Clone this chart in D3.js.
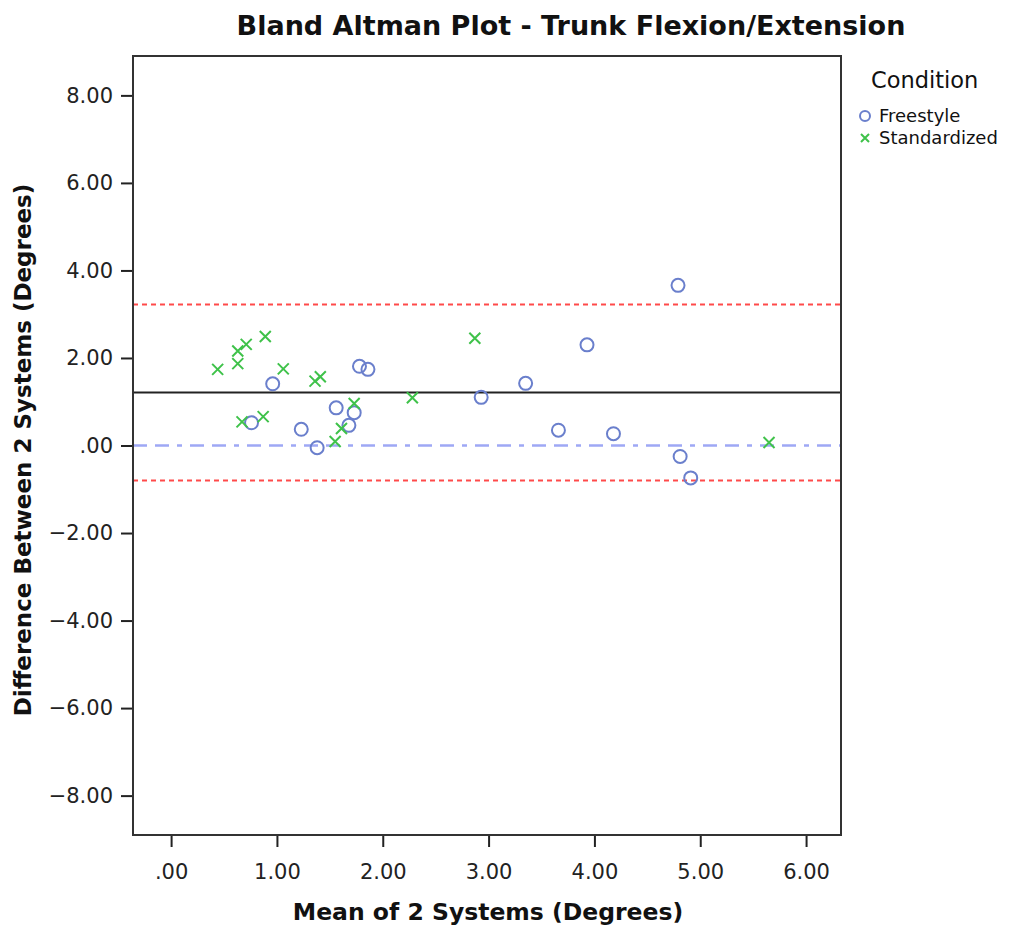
<!DOCTYPE html>
<html lang="en">
<head>
<meta charset="UTF-8">
<title>Bland Altman Plot</title>
<script src="https://cdnjs.cloudflare.com/ajax/libs/d3/7.8.5/d3.min.js"></script>
<style>
    body { margin: 0; background: #fff; }
    text { font-family: "DejaVu Sans", sans-serif; fill: #111; }
</style>
</head>
<body>
<svg id="chart"></svg>
<script>
// freestyle points: [mean, difference]
const freestyle = [
    [0.76, 0.52], [0.96, 1.41], [1.23, 0.37], [1.38, -0.05], [1.56, 0.86],
    [1.68, 0.46], [1.73, 0.75], [1.78, 1.81], [1.86, 1.74], [2.93, 1.10],
    [3.35, 1.42], [3.66, 0.35], [3.93, 2.30], [4.18, 0.27], [4.79, 3.66],
    [4.81, -0.25], [4.91, -0.74]
];
// standardized points
const standardized = [
    [0.44, 1.74], [0.63, 2.16], [0.63, 1.87], [0.71, 2.31], [0.89, 2.49],
    [1.06, 1.75], [1.36, 1.47], [1.41, 1.57], [0.67, 0.54], [0.87, 0.66],
    [1.73, 0.96], [1.61, 0.39], [1.55, 0.09], [2.28, 1.09], [2.87, 2.45],
    [5.65, 0.07]
];
const meanDiff = 1.21;
const upperLoA = 3.22;
const lowerLoA = -0.80;
const zeroLine = 0;

const xTicks = [0, 1, 2, 3, 4, 5, 6];
const yTicks = [-8, -6, -4, -2, 0, 2, 4, 6, 8];
const legendItems = ["Freestyle", "Standardized"];

const W = 1009, H = 926;
const frame = {left: 133, right: 841, top: 56, bottom: 835};

const svg = d3.select("#chart").attr("width", W).attr("height", H);

const x = d3.scaleLinear().domain([-0.36, 6.33]).range([frame.left, frame.right]);
const y = d3.scaleLinear().domain([-8.9, 8.9]).range([frame.bottom, frame.top]);

const fmt = v => v === 0 ? ".00" : d3.format(".2f")(v).replace("-", "\u2212");

// title
svg.append("text")
    .attr("x", 571).attr("y", 35)
    .attr("text-anchor", "middle")
    .style("font-size", "27px").style("font-weight", "bold")
    .text("Bland Altman Plot - Trunk Flexion/Extension");

// axes
const xAxis = d3.axisBottom(x).tickValues(xTicks).tickSize(12).tickSizeOuter(0).tickFormat(fmt);
const gx = svg.append("g").attr("transform", `translate(0,${frame.bottom})`).call(xAxis);
gx.select(".domain").remove();
gx.selectAll(".tick line").attr("stroke", "#222").attr("stroke-width", 2);
gx.selectAll(".tick text").attr("dy", "1.4em").style("font-size", "21px").style("fill", "#222");

const yAxis = d3.axisLeft(y).tickValues(yTicks).tickSize(12).tickSizeOuter(0).tickFormat(fmt);
const gy = svg.append("g").attr("transform", `translate(${frame.left},0)`).call(yAxis);
gy.select(".domain").remove();
gy.selectAll(".tick line").attr("stroke", "#222").attr("stroke-width", 2);
gy.selectAll(".tick text").attr("x", -20).style("font-size", "21px").style("fill", "#222");

// reference lines
const refLine = (v, color, dash, width) => svg.append("line")
    .attr("x1", frame.left).attr("x2", frame.right)
    .attr("y1", y(v)).attr("y2", y(v))
    .attr("stroke", color).attr("stroke-width", width)
    .attr("stroke-dasharray", dash);

refLine(upperLoA, "#ff4a4a", "5,4", 2);
refLine(lowerLoA, "#ff4a4a", "5,4", 2);
refLine(zeroLine, "#9ea8f5", "14,8,14,8,5,8", 2.5);
refLine(meanDiff, "#222", null, 2);

// frame
svg.append("rect")
    .attr("x", frame.left).attr("y", frame.top)
    .attr("width", frame.right - frame.left).attr("height", frame.bottom - frame.top)
    .attr("fill", "none").attr("stroke", "#333").attr("stroke-width", 2);

// points
svg.append("g").selectAll("circle")
    .data(freestyle).join("circle")
    .attr("cx", d => x(d[0])).attr("cy", d => y(d[1]))
    .attr("r", 6.5)
    .attr("fill", "none").attr("stroke", "#6a7fcc").attr("stroke-width", 2);

const crossPath = s => `M${-s},${-s}L${s},${s}M${-s},${s}L${s},${-s}`;
svg.append("g").selectAll("path")
    .data(standardized).join("path")
    .attr("transform", d => `translate(${x(d[0])},${y(d[1])})`)
    .attr("d", crossPath(5.5))
    .attr("stroke", "#3fc24a").attr("stroke-width", 2);

// axis labels
svg.append("text")
    .attr("x", 488).attr("y", 920)
    .attr("text-anchor", "middle")
    .style("font-size", "23.5px").style("font-weight", "bold")
    .text("Mean of 2 Systems (Degrees)");

svg.append("text")
    .attr("transform", `translate(31,450) rotate(-90)`)
    .attr("text-anchor", "middle")
    .style("font-size", "23px").style("font-weight", "bold")
    .text("Difference Between 2 Systems (Degrees)");

// legend
const lg = svg.append("g");
lg.append("text").attr("x", 871).attr("y", 88)
    .style("font-size", "22.5px").text("Condition");
legendItems.forEach((name, i) => {
    const cy = 116 + i * 22;
    if (i === 0) {
        lg.append("circle").attr("cx", 865).attr("cy", cy).attr("r", 5)
            .attr("fill", "none").attr("stroke", "#6a7fcc").attr("stroke-width", 2);
    } else {
        lg.append("path").attr("transform", `translate(865,${cy})`)
            .attr("d", crossPath(4)).attr("stroke", "#3fc24a").attr("stroke-width", 2);
    }
    lg.append("text").attr("x", 879).attr("y", cy + 6)
        .style("font-size", "18px").text(name);
});
</script>
</body>
</html>
